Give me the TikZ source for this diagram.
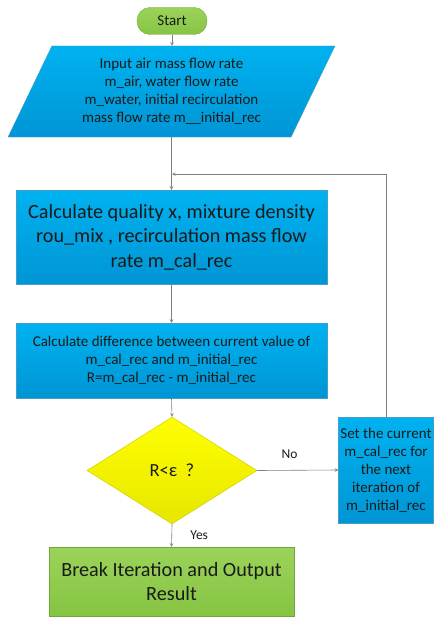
\documentclass[tikz,border=0pt]{standalone}
\usepackage{fontspec}
\setmainfont{Carlito}
\usetikzlibrary{positioning, arrows, shapes.geometric}

\definecolor{boxblue}{HTML}{00B2F0}
\definecolor{boxbluedark}{HTML}{0095D5}
\definecolor{blueedge}{HTML}{4A9CC8}
\definecolor{startgreen}{HTML}{9BD35A}
\definecolor{startgreendark}{HTML}{86C443}
\definecolor{greenedge}{HTML}{6FA83A}
\definecolor{askyellow}{HTML}{FFFF00}
\definecolor{askyellowdark}{HTML}{E6E600}
\definecolor{yellowedge}{HTML}{C8C800}
\definecolor{linegray}{HTML}{7F7F7F}
\definecolor{textdark}{HTML}{1A1A1A}

\begin{document}
\begin{tikzpicture}[x=1pt, y=-1pt, >=stealth, text=textdark,
    flow/.style={draw=linegray, ->, semithick},
    bluebox/.style={draw=blueedge, top color=boxblue, bottom color=boxbluedark, align=center, inner sep=0pt},
    greenbox/.style={draw=greenedge, top color=startgreen, bottom color=startgreendark, align=center, inner sep=0pt},
    small/.style={font=\fontsize{15}{18}\selectfont},
    large/.style={font=\fontsize{20.2}{24.5}\selectfont}]
    \useasboundingbox (0, 0) rectangle (434, 618);

    \node (start) [greenbox, rounded corners=13pt, minimum width=70pt, minimum height=27pt, font=\fontsize{15}{17}\selectfont] at (172, 21) {Start};
    \node (input) [bluebox, small, trapezium, trapezium stretches, trapezium left angle=63.7, trapezium right angle=116.3, minimum width=327pt, minimum height=91pt] at (171.5, 91.5) {Input air mass flow rate\\m\_air, water flow rate\\m\_water, initial recirculation\\mass flow rate m\_\_initial\_rec};
    \node (calcx) [bluebox, large, minimum width=311pt, minimum height=94pt] at (171.5, 237) {Calculate quality x, mixture density\\rou\_mix , recirculation mass flow\\rate m\_cal\_rec};
    \node (diff) [bluebox, small, minimum width=311pt, minimum height=75pt] at (171.5, 360.5) {Calculate difference between current value of\\m\_cal\_rec and m\_initial\_rec\\R=m\_cal\_rec - m\_initial\_rec};
    \node (check) [diamond, draw=yellowedge, top color=askyellow, bottom color=askyellowdark, minimum width=170pt, minimum height=107pt, inner sep=0pt, font=\fontsize{18.5}{21}\selectfont] at (172, 470.5) {R<ε\ \ ?};
    \node (setnext) [bluebox, small, minimum width=95pt, minimum height=106pt] at (386, 470) {Set the current\\m\_cal\_rec for\\the next\\iteration of\\m\_initial\_rec};
    \node (result) [greenbox, large, minimum width=245pt, minimum height=69pt] at (171.5, 581.5) {Break Iteration and Output\\Result};
    \coordinate (merge) at (172, 174);

    \draw [flow] (start.south) -- (start.south |- input.north);
    \draw [flow] (input.south -| calcx.north) -- (calcx.north);
    \draw [flow] (calcx.south) -- (diff.north);
    \draw [flow] (diff.south) -- (check.north);
    \draw [flow] (check.east) -- (setnext.west) node [pos=0.4, above=8pt, font=\fontsize{13.5}{15}\selectfont] {No};
    \draw [flow] (check.south) -- (result.north) node [midway, right=15pt, font=\fontsize{13.5}{15}\selectfont] {Yes};
    \draw [flow] (setnext.north) |- (merge);
\end{tikzpicture}
\end{document}
